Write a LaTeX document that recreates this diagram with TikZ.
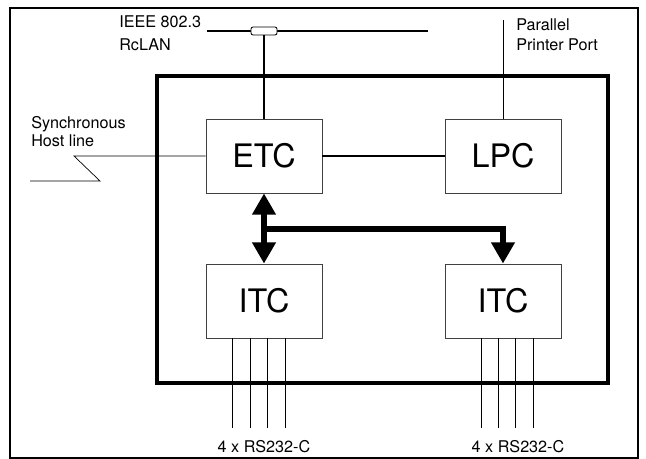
\documentclass[tikz,border=0pt]{standalone}
\usepackage{fontspec}
\setmainfont{TeX Gyre Heros}
\usetikzlibrary{arrows.meta, positioning, calc}

\begin{document}
\begin{tikzpicture}[x=0.025cm, y=-0.025cm,
  unit/.style={draw=black!75, line width=0.6pt, minimum width=2.9cm, minimum height=1.85cm,
    font=\fontsize{23}{25}\selectfont},
  lbl/.style={font=\fontsize{11.5}{13}\selectfont, anchor=west, inner sep=0pt, align=left},
  wire/.style={line width=0.5pt},
  fatbus/.style={line width=4.3pt}
]

  \useasboundingbox (0,0) rectangle (646,459);

  % Frames
  \draw[line width=1pt] (10,8) rectangle (638,458);
  \draw[line width=2.8pt] (157,76) rectangle (608,383);

  % Units
  \node[unit] (etc) at (264,156) {ETC};
  \node[unit] (lpc) at (503,156) {LPC};
  \node[unit] (itcl) at (264,301) {ITC};
  \node[unit] (itcr) at (503,301) {ITC};

  % LAN
  \coordinate (lanL) at (207,31);
  \coordinate (lanR) at (428,31);
  \draw[line width=2pt] (lanL) -- (lanR);
  \node[draw, fill=white, line width=0.6pt, rounded corners=1.5pt,
    minimum width=0.65cm, minimum height=0.2cm, inner sep=0pt] (tap) at (264,31) {};
  \draw[line width=2pt] (tap) -- (etc.north);
  \node[lbl, font=\fontsize{11.5}{16.5}\selectfont] (ieee) at (119,33) {IEEE 802.3\\RcLAN};

  % Printer port
  \coordinate (ppp) at (503,20);
  \draw[wire] (ppp) -- (lpc.north);
  \node[lbl, font=\fontsize{11.5}{14.2}\selectfont] (pport) at (516,35) {Parallel\\Printer Port};

  % Host line
  \coordinate (h1) at (74,158);
  \coordinate (h2) at (100,181);
  \coordinate (h3) at (30,181);
  \draw[wire] (etc.west) -- (etc.west -| h1) -- (h2) -- (h3);
  \node[lbl, font=\fontsize{11.5}{12.8}\selectfont] (host) at (31,132) {Synchronous\\Host line};

  \draw[line width=1.4pt] (etc) -- (lpc);

  % Internal bus
  \coordinate (br) at (264,229);
  \draw[fatbus, {Triangle[length=15pt,width=16pt]}-{Triangle[length=15pt,width=16pt]}]
    (etc.south) -- (itcl.north);
  \draw[fatbus, -{Triangle[length=15pt,width=16pt]}] (br) -| (itcr.north);

  % Serial ports
  \foreach \x in {232,250,267,285}
    \draw[wire] (itcl.south -| \x,0) -- (\x,428);
  \foreach \x in {481,498,515,533}
    \draw[wire] (itcr.south -| \x,0) -- (\x,428);
  \node[font=\fontsize{11.5}{13}\selectfont] (rsl) at (264,447) {4 x RS232-C};
  \node[font=\fontsize{11.5}{13}\selectfont] (rsr) at (518,447) {4 x RS232-C};

\end{tikzpicture}
\end{document}
